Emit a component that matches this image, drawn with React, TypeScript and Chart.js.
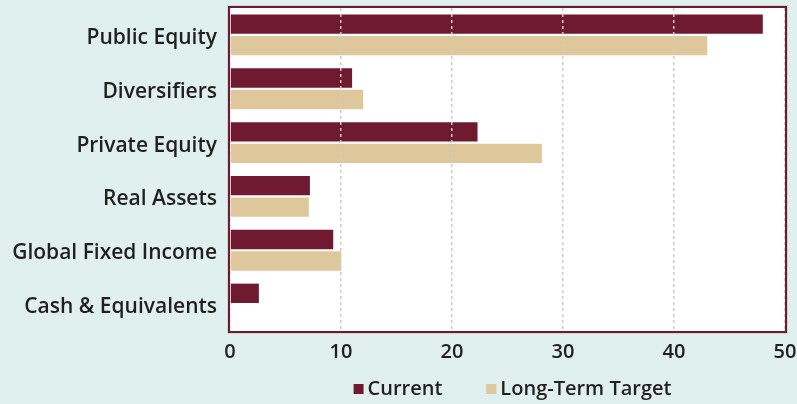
import React, { useEffect, useRef } from "react";
import { Chart, registerables } from "chart.js";

Chart.register(...registerables);

const categories = [
  "Public Equity",
  "Diversifiers",
  "Private Equity",
  "Real Assets",
  "Global Fixed Income",
  "Cash & Equivalents",
];
const currentValues = [48, 11, 22.3, 7.2, 9.3, 2.6];
const targetValues = [43, 12, 28.1, 7.1, 10, 0];
const xTicks = [0, 10, 20, 30, 40, 50];

const MAROON = "#701a32";
const TAN = "#dec79a";
const BG = "#dff0ef";
const TEXT = "#231f20";
const FONT = "'Open Sans', sans-serif";

const plotAreaPlugin = {
  id: "plotArea",
  beforeDraw(chart: any) {
    const { ctx, chartArea: a } = chart;
    ctx.save();
    ctx.fillStyle = "#ffffff";
    ctx.fillRect(a.left, a.top, a.right - a.left, a.bottom - a.top);
    ctx.restore();
  },
  afterDraw(chart: any) {
    const { ctx, chartArea: a } = chart;
    ctx.save();
    ctx.strokeStyle = "#cfd6d6";
    ctx.lineWidth = 1;
    ctx.strokeRect(a.left - 2.5, a.top - 2.5, a.right - a.left + 5, a.bottom - a.top + 5);
    ctx.strokeStyle = MAROON;
    ctx.lineWidth = 2;
    ctx.strokeRect(a.left - 1, a.top - 1, a.right - a.left + 2, a.bottom - a.top + 2);

    // custom legend
    ctx.font = `600 20px ${FONT}`;
    ctx.textBaseline = "middle";
    ctx.textAlign = "left";
    const items = chart.data.datasets.map((d: any) => ({
      label: d.label,
      color: d.backgroundColor,
      w: ctx.measureText(d.label).width,
    }));
    const box = 10;
    const gapBox = 4;
    const gapItem = 44;
    let total = 0;
    items.forEach((it: any, i: number) => {
      total += box + gapBox + it.w + (i < items.length - 1 ? gapItem : 0);
    });
    const cx = (a.left + a.right) / 2 + 5;
    let x = cx - total / 2;
    const y = 389;
    items.forEach((it: any) => {
      ctx.fillStyle = it.color;
      ctx.fillRect(x, y - 5, box, box);
      x += box + gapBox;
      ctx.fillStyle = TEXT;
      ctx.fillText(it.label, x, y);
      x += it.w + gapItem;
    });
    ctx.restore();
  },
};

export default function App() {
  const ref = useRef<HTMLCanvasElement | null>(null);
  useEffect(() => {
    document.body.style.margin = "0";
    document.body.style.background = BG;
    const chart = new Chart(ref.current!, {
      type: "bar",
      data: {
        labels: categories,
        datasets: [
          {
            label: "Current",
            data: currentValues,
            backgroundColor: MAROON,
            categoryPercentage: 0.8,
            barPercentage: 0.9,
          },
          {
            label: "Long-Term Target",
            data: targetValues,
            backgroundColor: TAN,
            categoryPercentage: 0.8,
            barPercentage: 0.9,
          },
        ],
      },
      options: {
        indexAxis: "y",
        animation: false,
        responsive: false,
        maintainAspectRatio: false,
        layout: { padding: { top: 8, right: 12, left: 0, bottom: 31 } },
        scales: {
          x: {
            min: 0,
            max: 50,
            afterBuildTicks: (s: any) => {
              s.ticks = xTicks.map((v) => ({ value: v }));
            },
            afterFit: (s: any) => {
              s.height = 42;
              s.paddingLeft = 0;
              s.paddingRight = 0;
            },
            grid: {
              z: 1,
              color: "#cccccc",
              lineWidth: 1.5,
              tickLength: 0,
              drawTicks: false,
            },
            border: { display: false, dash: [3, 3] },
            ticks: {
              color: TEXT,
              padding: 9,
              font: { family: FONT, size: 20, weight: 600 },
            },
          },
          y: {
            afterFit: (s: any) => {
              s.width = 230;
              s.paddingTop = 0;
              s.paddingBottom = 0;
            },
            grid: { display: false, drawTicks: false },
            border: { display: false },
            ticks: {
              color: TEXT,
              padding: 13,
              labelOffset: 3,
              font: { family: FONT, size: 21, weight: 600 },
            },
          },
        },
        plugins: {
          legend: { display: false },
          tooltip: { enabled: false },
        },
      },
      plugins: [plotAreaPlugin],
    } as any);
    return () => chart.destroy();
  }, []);
  return (
    <div style={{ width: 797, height: 404, background: BG }}>
      <canvas ref={ref} width={797} height={404} style={{ display: "block" }} />
    </div>
  );
}
